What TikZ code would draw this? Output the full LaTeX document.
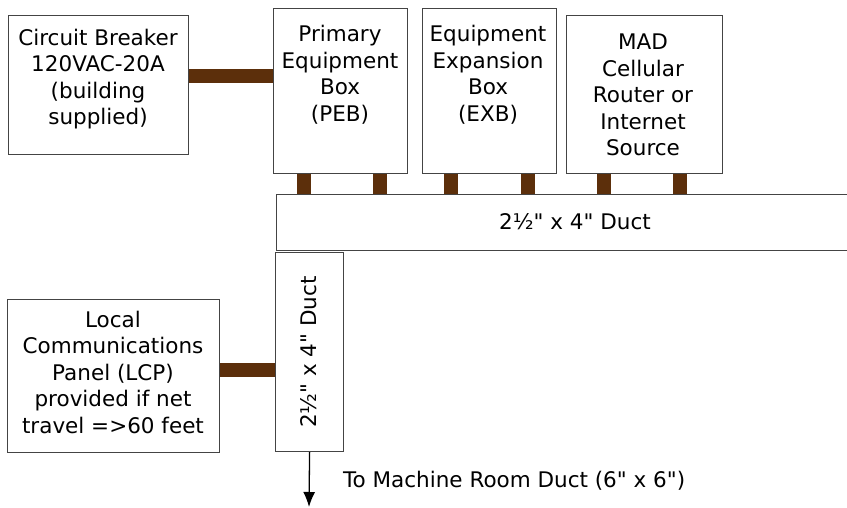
\documentclass[tikz,border=0pt]{standalone}
\usepackage{fontspec}
\setmainfont{DejaVu Sans}
\usetikzlibrary{arrows.meta}
\definecolor{wirebrown}{HTML}{5C2F0B}
\definecolor{edgegray}{HTML}{444444}
\newcommand\qmk{\XeTeXglyph\numexpr\XeTeXcharglyph"22\relax}
\begin{document}
\begin{tikzpicture}[x=1pt,y=-1pt,
  box/.style={draw=edgegray,line width=1.2pt,fill=white,inner sep=0pt,anchor=north west},
  lbl/.style={font=\fontsize{21.5}{26.5}\selectfont,align=center,inner sep=0pt},
  wire/.style={draw=wirebrown,line width=14pt}]
\useasboundingbox (0,0) rectangle (847,508);
% boxes
\node[box,minimum width=180pt,minimum height=139pt] (cb) at (8,15) {};
\node[box,minimum width=134pt,minimum height=165pt] (peb) at (273,8) {};
\node[box,minimum width=134pt,minimum height=165pt] (exb) at (422,8) {};
\node[box,minimum width=156pt,minimum height=158pt] (mad) at (566,15) {};
\node[box,minimum width=700pt,minimum height=56pt] (hduct) at (276,194) {};
\node[box,minimum width=68pt,minimum height=199pt] (vduct) at (275,252) {};
\node[box,minimum width=212pt,minimum height=153pt] (lcp) at (7,299) {};
% labels
\node[lbl] (cbt) at (98,79) {Circuit Breaker\\120VAC-20A\\(building\\supplied)};
\node[lbl] (pebt) at (340,75) {Primary\\Equipment\\Box\\(PEB)};
\node[lbl] (exbt) at (488,75) {Equipment\\Expansion\\Box\\(EXB)};
\node[lbl] (madt) at (643,95) {MAD\\Cellular\\Router or\\Internet\\Source};
\node[lbl] (lcpt) at (113,372) {Local\\Communications\\Panel (LCP)\\provided if net\\travel =>60 feet};
\node[lbl] (hductt) at (575,222) {2½\qmk{} x 4\qmk{} Duct};
\node[lbl,rotate=90] (vductt) at (309,352) {2½\qmk{} x 4\qmk{} Duct};
\node[lbl,anchor=west] (mrt) at (343,481) {To Machine Room Duct (6\qmk{} x 6\qmk)};
% wires
\draw[wire] (cb.east |- 0,76) -- (peb.west |- 0,76);
\draw[wire] (304,0 |- peb.south) -- (304,0 |- hduct.north);
\draw[wire] (380,0 |- peb.south) -- (380,0 |- hduct.north);
\draw[wire] (451,0 |- exb.south) -- (451,0 |- hduct.north);
\draw[wire] (528,0 |- exb.south) -- (528,0 |- hduct.north);
\draw[wire] (604,0 |- mad.south) -- (604,0 |- hduct.north);
\draw[wire] (680,0 |- mad.south) -- (680,0 |- hduct.north);
\draw[wire] (lcp.east |- 0,370) -- (vduct.west |- 0,370);
% arrow
\coordinate (mrend) at (309,507);
\draw[line width=1.3pt,-{Latex[length=15pt,width=12pt]}] (vduct.south) -- (mrend);
\end{tikzpicture}
\end{document}
